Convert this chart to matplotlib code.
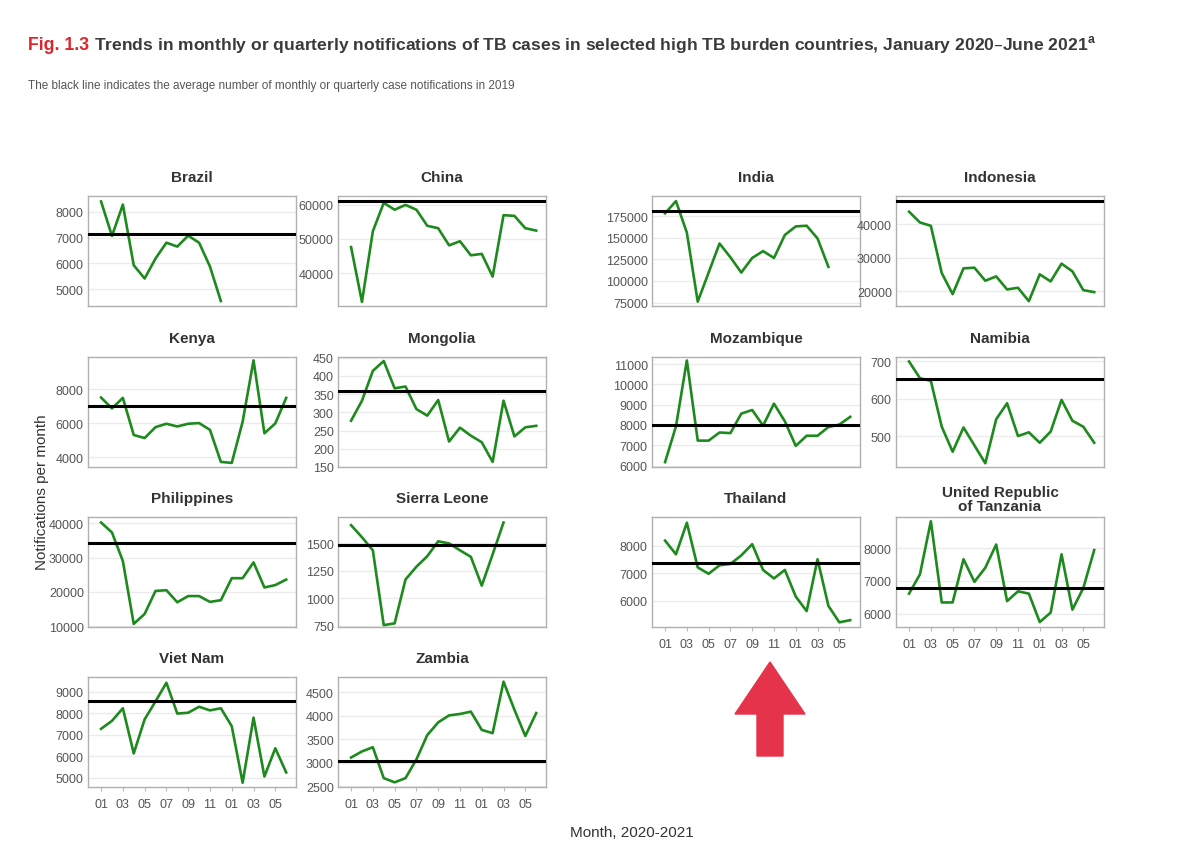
import numpy as np
import matplotlib
matplotlib.use('Agg')
import matplotlib.pyplot as plt
from matplotlib.patches import FancyArrow

# monthly notifications, Jan 2020 onwards
brazil = [8390, 7060, 8270, 5930, 5420, 6190, 6800, 6650, 7070, 6800, 5880, 4550]
china = [47600, 31600, 52200, 60500, 58500, 59900, 58500, 53800, 53100, 48100,
         49300, 45200, 45600, 39000, 56900, 56700, 53100, 52400]
india = [178200, 192400, 155900, 76000, 109700, 143300, 127400, 109700, 126600,
         134500, 126600, 153200, 163100, 163900, 149200, 116300]
indonesia = [43700, 40500, 39500, 25400, 19100, 26800, 27000, 23100, 24400, 20500,
             21000, 17000, 25000, 22900, 28200, 25900, 20300, 19700]
kenya = [7520, 6880, 7500, 5320, 5140, 5780, 5980, 5820, 5980, 6020, 5620, 3740,
         3680, 6100, 9700, 5420, 6000, 7500]
mongolia = [277, 332, 414, 441, 366, 371, 309, 291, 334, 220, 258, 236, 218, 164,
            332, 234, 259, 263]
mozambique = [6170, 7930, 11180, 7230, 7230, 7630, 7600, 8560, 8740, 7970, 9050,
              8180, 6970, 7470, 7470, 7900, 8020, 8400]
namibia = [700, 655, 648, 525, 458, 523, 475, 427, 545, 588, 500, 510, 482, 512,
           597, 541, 525, 482]
philippines = [40200, 37300, 29000, 10700, 13600, 20300, 20500, 17000, 18800, 18800,
               17100, 17600, 24000, 24000, 28600, 21300, 22000, 23600]
sierra_leone = [1666, 1556, 1437, 757, 773, 1172, 1288, 1384, 1519, 1500, 1437,
                1378, 1116, 1400, 1690]
thailand = [8190, 7690, 8840, 7210, 6980, 7290, 7340, 7650, 8060, 7120, 6810, 7120,
            6150, 5620, 7510, 5810, 5210, 5290]
tanzania = [6610, 7200, 8820, 6340, 6340, 7660, 6970, 7400, 8110, 6380, 6680, 6610,
            5740, 6030, 7810, 6120, 6780, 7940]
viet_nam = [7280, 7650, 8240, 6130, 7720, 8560, 9430, 7990, 8030, 8310, 8140, 8240,
            7400, 4760, 7800, 5050, 6370, 5240]
zambia = [3110, 3240, 3330, 2670, 2580, 2670, 3070, 3590, 3860, 4010, 4040, 4090,
          3700, 3630, 4730, 4130, 3570, 4060]

# average monthly notifications in 2019 (black line)
baseline = {'Brazil': 7130, 'China': 61000, 'India': 181000, 'Indonesia': 46870,
            'Kenya': 7040, 'Mongolia': 360, 'Mozambique': 8000, 'Namibia': 653,
            'Philippines': 34240, 'Sierra Leone': 1490, 'Thailand': 7380,
            'United Republic\nof Tanzania': 6775, 'Viet Nam': 8570, 'Zambia': 3040}

month_ticks = [1, 3, 5, 7, 9, 11, 13, 15, 17]
month_labels = ['01', '03', '05', '07', '09', '11', '01', '03', '05']

# (name, series, yticks, ylim, left px, top px, show x labels)
panels = [
    ('Brazil', brazil, [5000, 6000, 7000, 8000], (4360, 8600), 88, 197, False),
    ('China', china, [40000, 50000, 60000], (30400, 62500), 338, 197, False),
    ('India', india, [75000, 100000, 125000, 150000, 175000], (71000, 198300), 652, 197, False),
    ('Indonesia', indonesia, [20000, 30000, 40000], (15560, 48400), 896, 197, False),
    ('Kenya', kenya, [4000, 6000, 8000], (3440, 9900), 88, 358, False),
    ('Mongolia', mongolia, [150, 200, 250, 300, 350, 400, 450], (150, 452), 338, 358, False),
    ('Mozambique', mozambique, [6000, 7000, 8000, 9000, 10000, 11000], (5930, 11350), 652, 358, False),
    ('Namibia', namibia, [500, 600, 700], (417, 712), 896, 358, False),
    ('Philippines', philippines, [10000, 20000, 30000, 40000], (9800, 41800), 88, 518, False),
    ('Sierra Leone', sierra_leone, [750, 1000, 1250, 1500], (740, 1740), 338, 518, False),
    ('Thailand', thailand, [6000, 7000, 8000], (5040, 9050), 652, 518, True),
    ('United Republic\nof Tanzania', tanzania, [6000, 7000, 8000], (5590, 8950), 896, 518, True),
    ('Viet Nam', viet_nam, [5000, 6000, 7000, 8000, 9000], (4560, 9700), 88, 678, True),
    ('Zambia', zambia, [2500, 3000, 3500, 4000, 4500], (2480, 4830), 338, 678, True),
]

W, H = 1200, 853
fig = plt.figure(figsize=(12, 8.53), dpi=100)
fig.patch.set_facecolor('white')

sans = ['Liberation Sans', 'DejaVu Sans']
narrow = ['Liberation Sans Narrow', 'Liberation Sans', 'DejaVu Sans']
green = '#1e8a1e'
tick_col = '#555555'

for name, vals, yt, yl, px, py, xlab in panels:
    pw, ph = 208, 110
    ax = fig.add_axes([px / W, 1 - (py + ph) / H, pw / W, ph / H])
    months = np.arange(1, len(vals) + 1)
    ax.plot(months, vals, color=green, lw=1.9, zorder=3)
    ax.axhline(baseline[name], color='black', lw=2.2, zorder=4)
    ax.set_xlim(-0.2, 18.9)
    ax.set_ylim(*yl)
    ax.set_yticks(yt)
    ax.set_yticklabels([str(v) for v in yt], family=sans, fontsize=9, color=tick_col)
    ax.grid(axis='y', color='#ebebeb', lw=1.0)
    ax.set_axisbelow(True)
    ax.tick_params(axis='y', length=0, pad=3)
    ax.set_xticks(month_ticks)
    if xlab:
        ax.set_xticklabels(month_labels, family=sans, fontsize=9, color=tick_col)
        ax.tick_params(axis='x', length=3, color='#bbbbbb', pad=5)
    else:
        ax.set_xticklabels([])
        ax.tick_params(axis='x', length=0)
    for s in ax.spines.values():
        s.set_color('#b0b0b0')
        s.set_linewidth(1.0)
    two_line = '\n' in name
    ax.set_title(name, family=sans, fontsize=11, fontweight='bold', color='#333333',
                 pad=5 if two_line else 11, linespacing=1.0)

# headings
fig.text(28 / W, 1 - 45 / H, 'Fig. 1.3', family=narrow, fontsize=12.8, fontweight='bold',
         color='#e0242b', va='center', ha='left')
fig.text(94 / W, 1 - 45 / H,
         'Trends in monthly or quarterly notifications of TB cases in selected high TB burden countries, January 2020\u2013June 2021$^{\\mathregular{a}}$',
         family=narrow, fontsize=12.6, fontweight='bold', color='#3a3a3a', va='center', ha='left')
fig.text(28 / W, 1 - 86 / H, 'The black line indicates the average number of monthly or quarterly case notifications in 2019',
         family=narrow, fontsize=8.5, color='#555555', va='center', ha='left')

fig.text(42 / W, 1 - 492 / H, 'Notifications per month', family=sans, fontsize=11,
         color='#333333', rotation=90, va='center', ha='center')
fig.text(632 / W, 1 - 833 / H, 'Month, 2020-2021', family=sans, fontsize=11,
         color='#333333', va='center', ha='center')

# red arrow overlay
arrow = FancyArrow(770 / W, 1 - 757 / H, 0, (757 - 663) / H, width=26 / W,
                   head_width=70 / W, head_length=52 / H, length_includes_head=True,
                   color='#e5334b', transform=fig.transFigure, figure=fig)
fig.patches.append(arrow)

fig.savefig('out.png', dpi=100, facecolor='white')
